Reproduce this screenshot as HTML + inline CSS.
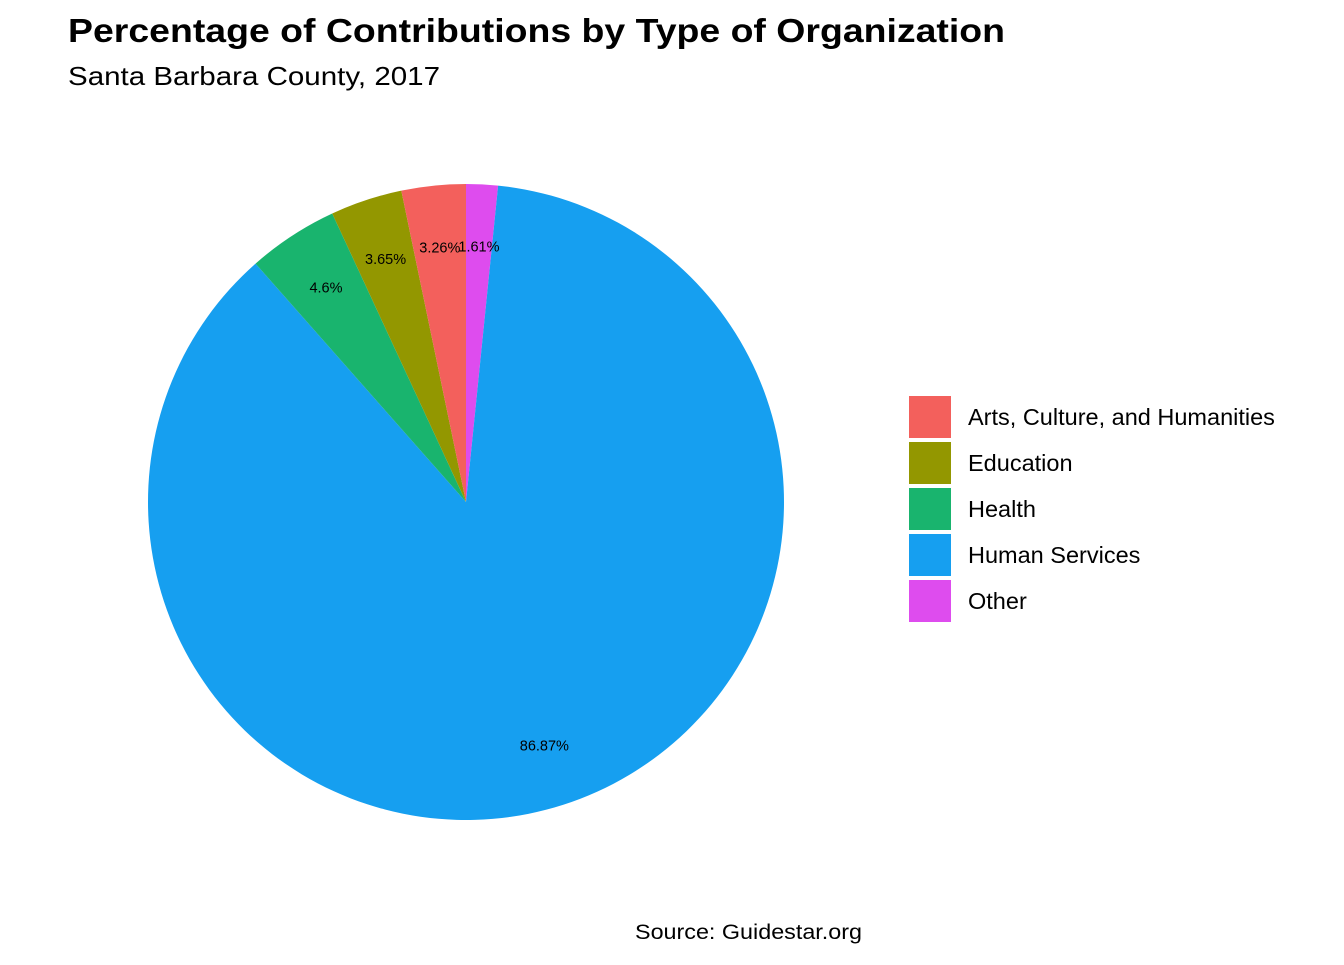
<!DOCTYPE html>
<html><head><meta charset="utf-8"><style>
body{margin:0;background:#fff;}
svg text{font-family:"Liberation Sans",Arial,sans-serif;}
</style></head><body>
<svg id="chart" width="1344" height="960" xmlns="http://www.w3.org/2000/svg">
<text x="68" y="42" font-size="33" font-weight="bold" fill="#000" textLength="937" lengthAdjust="spacingAndGlyphs">Percentage of Contributions by Type of Organization</text>
<text x="68" y="85" font-size="26" fill="#000" textLength="372" lengthAdjust="spacingAndGlyphs">Santa Barbara County, 2017</text>
<g id="slices"></g>
<g id="labels"></g>
<g id="legend"></g>
<text x="635" y="939" font-size="21" fill="#000" textLength="227" lengthAdjust="spacingAndGlyphs">Source: Guidestar.org</text>
</svg>
<script>
const categories = ["Arts, Culture, and Humanities","Education","Health","Human Services","Other"];
const values = [3.26, 3.65, 4.6, 86.87, 1.61];
const labels = ["3.26%","3.65%","4.6%","86.87%","1.61%"];
const colors = ["#F3605C","#939700","#19B46E","#169FF0","#DE4CEE"];
const drawOrder = [4,3,2,1,0];
const cx=466, cy=502, R=318, LR=256;
const NS="http://www.w3.org/2000/svg";
const total = values.reduce((a,b)=>a+b,0);
function pt(frac,r){const a=frac*2*Math.PI;return [cx+r*Math.sin(a), cy-r*Math.cos(a)];}
const sg=document.getElementById('slices'), lg=document.getElementById('labels');
let acc=0;
drawOrder.forEach(i=>{
  const f0=acc/total, f1=(acc+values[i])/total; acc+=values[i];
  const [x0,y0]=pt(f0,R),[x1,y1]=pt(f1,R);
  const large=(f1-f0)>0.5?1:0;
  const p=document.createElementNS(NS,'path');
  p.setAttribute('d',`M${cx},${cy}L${x0},${y0}A${R},${R} 0 ${large} 1 ${x1},${y1}Z`);
  p.setAttribute('fill',colors[i]);
  
  
  sg.appendChild(p);
  const [lx,ly]=pt((f0+f1)/2,LR);
  const t=document.createElementNS(NS,'text');
  t.setAttribute('x',lx);t.setAttribute('y',ly+5);t.setAttribute('font-size','14.5');
  t.setAttribute('text-anchor','middle');t.textContent=labels[i];
  
  
  lg.appendChild(t);
});
const leg=document.getElementById('legend');
categories.forEach((c,i)=>{
  const y=396+i*46;
  const r=document.createElementNS(NS,'rect');
  r.setAttribute('x',909);r.setAttribute('y',y);r.setAttribute('width',42);r.setAttribute('height',42);
  r.setAttribute('fill',colors[i]);
  
  
  leg.appendChild(r);
  const t=document.createElementNS(NS,'text');
  t.setAttribute('x',968);t.setAttribute('y',y+29);t.setAttribute('font-size','23.5');
  t.textContent=c;
  
  
  leg.appendChild(t);
});
</script>
</body></html>
